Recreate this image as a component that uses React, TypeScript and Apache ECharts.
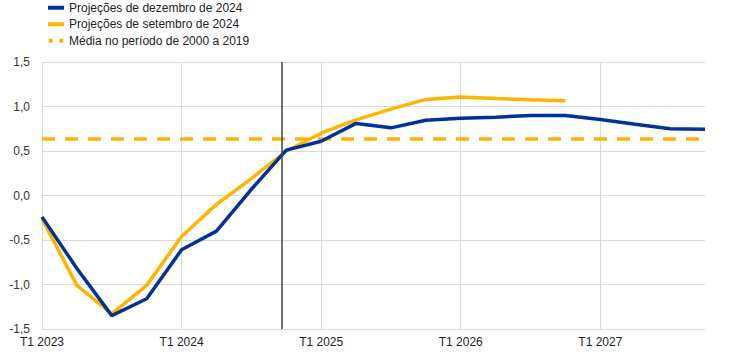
import React, { useEffect, useRef } from "react";
import * as echarts from "echarts";

const quarters = [
  "T1 2023", "T2 2023", "T3 2023", "T4 2023",
  "T1 2024", "T2 2024", "T3 2024", "T4 2024",
  "T1 2025", "T2 2025", "T3 2025", "T4 2025",
  "T1 2026", "T2 2026", "T3 2026", "T4 2026",
  "T1 2027", "T2 2027", "T3 2027", "T4 2027",
];

const seriesNames = [
  "Projeções de dezembro de 2024",
  "Projeções de setembro de 2024",
  "Média no período de 2000 a 2019",
];

const dec2024 = [
  -0.24, -0.82, -1.35, -1.16, -0.61, -0.4, 0.07, 0.51, 0.61, 0.81,
  0.76, 0.845, 0.867, 0.88, 0.9, 0.9, 0.855, 0.8, 0.75, 0.745,
];

const sep2024 = [
  -0.26, -1.01, -1.33, -1.01, -0.46, -0.1, 0.19, 0.5, 0.7, 0.85,
  0.97, 1.08, 1.107, 1.09, 1.077, 1.065,
];

const average2000to2019 = 0.635;
const cutoffPosition = 6.86;

const yTicks = { min: -1.5, max: 1.5, interval: 0.5 };

const BLUE = "#003299";
const YELLOW = "#FFB400";

export default function App() {
  const ref = useRef<HTMLDivElement>(null);

  useEffect(() => {
    if (!ref.current) return;
    document.body.style.margin = "0";
    const chart = echarts.init(ref.current, undefined, { renderer: "svg" });
    const font = "'Liberation Sans', Arial, sans-serif";

    chart.setOption({
      animation: false,
      textStyle: { fontFamily: font },
      legend: {
        orient: "vertical",
        left: 43,
        top: -4,
        itemWidth: 16,
        itemHeight: 4,
        itemGap: 3,
        data: [
          { name: seriesNames[0], icon: "rect" },
          { name: seriesNames[1], icon: "rect" },
          {
            name: seriesNames[2],
            icon: "path://M0,0h3v3h-3z M8,0h3v3h-3z",
          },
        ],
        textStyle: {
          fontFamily: font,
          fontSize: 12,
          color: "#222",
          lineHeight: 13.5,
        },
      },
      grid: { left: 42, right: 39, top: 62, bottom: 28, containLabel: false },
      xAxis: {
        type: "value",
        min: 0,
        max: quarters.length - 1,
        interval: 4,
        axisLine: { show: true, lineStyle: { color: "#d9d9d9", width: 1 } },
        axisTick: { show: false },
        splitLine: {
          show: true,
          showMaxLine: false,
          lineStyle: { color: "#d9d9d9", width: 1 },
        },
        axisLabel: {
          showMaxLabel: false,
          margin: 7,
          fontSize: 12,
          color: "#222",
          fontFamily: font,
          formatter: (v: number) =>
            Number.isInteger(v) && v % 4 === 0 ? quarters[v] : "",
        },
      },
      yAxis: {
        type: "value",
        min: yTicks.min,
        max: yTicks.max,
        interval: yTicks.interval,
        axisLine: { show: false },
        axisTick: { show: false },
        splitLine: { show: true, lineStyle: { color: "#d9d9d9", width: 1 } },
        axisLabel: {
          margin: 12,
          fontSize: 12,
          color: "#333",
          fontFamily: font,
          formatter: (v: number) => v.toFixed(1).replace(".", ","),
        },
      },
      series: [
        {
          name: seriesNames[2],
          type: "line",
          data: [
            [0, average2000to2019],
            [quarters.length - 1, average2000to2019],
          ],
          symbol: "none",
          lineStyle: { color: YELLOW, width: 3.5, type: [13, 10] },
          itemStyle: { color: YELLOW },
          z: 2,
          markLine: {
            silent: true,
            symbol: "none",
            label: { show: false },
            lineStyle: { color: "#404040", width: 1.5, type: "solid" },
            data: [{ xAxis: cutoffPosition }],
          },
        },
        {
          name: seriesNames[1],
          type: "line",
          data: sep2024.map((v, i) => [i, v]),
          symbol: "none",
          lineStyle: { color: YELLOW, width: 3.5 },
          itemStyle: { color: YELLOW },
          z: 3,
        },
        {
          name: seriesNames[0],
          type: "line",
          data: dec2024.map((v, i) => [i, v]),
          symbol: "none",
          lineStyle: { color: BLUE, width: 3.5 },
          itemStyle: { color: BLUE },
          z: 4,
        },
      ],
    });

    return () => chart.dispose();
  }, []);

  return <div ref={ref} style={{ width: 744, height: 357 }} />;
}
